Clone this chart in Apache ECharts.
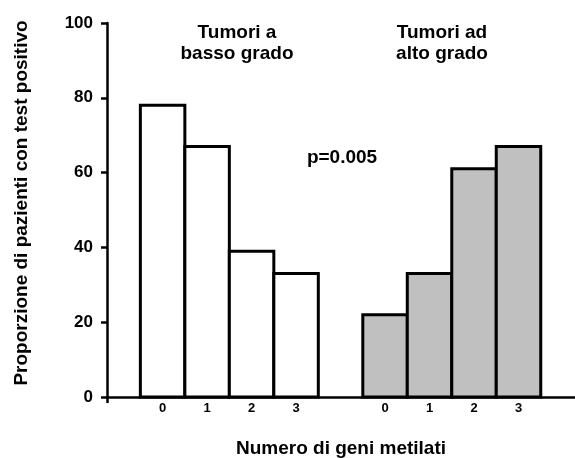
<!DOCTYPE html>
<html><head><meta charset="utf-8">
<script src="https://cdn.jsdelivr.net/npm/echarts@6/dist/echarts.min.js"></script>
<style>html,body{margin:0;padding:0;background:#fff}#c{width:575px;height:458px}</style>
</head><body><div id="c"></div>
<script>
// ---- data ----
const geneCounts = ['0', '1', '2', '3'];
const groupTitles = ['Tumori a\nbasso grado', 'Tumori ad\nalto grado'];
const lowGrade = [78, 67, 39, 33];
const highGrade = [22, 33, 61, 67];
const yTickValues = [0, 20, 40, 60, 80, 100];
const pValueText = 'p=0.005';
const yAxisTitle = 'Proporzione di pazienti con test positivo';
const xAxisTitle = 'Numero di geni metilati';

// ---- layout helpers ----
const FONT = '"Liberation Sans", Arial, Helvetica, sans-serif';
const groupOffset = [1, 6]; // slot of first bar in each group
const lowData = lowGrade.map((v, i) => [groupOffset[0] + i, v]);
const highData = highGrade.map((v, i) => [groupOffset[1] + i, v]);
const labelSlots = [];
const labelMap = {};
[0, 1].forEach(g => geneCounts.forEach((c, i) => {
  const s = groupOffset[g] + i; labelSlots.push(s); labelMap[s] = c;
}));

function renderBar(params, api) {
  const x = api.value(0), y = api.value(1);
  const p0 = api.coord([x - 0.5, y]);
  const p1 = api.coord([x + 0.5, 0]);
  return {
    type: 'rect',
    shape: { x: p0[0], y: p0[1], width: p1[0] - p0[0], height: p1[1] - p0[1] },
    style: { fill: api.visual('color'), stroke: '#000', lineWidth: 3 }
  };
}

const chart = echarts.init(document.getElementById('c'));
chart.setOption({
  animation: false,
  backgroundColor: '#fff',
  grid: { left: 107, right: 0, top: 23, bottom: 61, containLabel: false, outerBoundsMode: 'none' },
  xAxis: {
    type: 'value', min: -0.25, max: 10.27,
    name: xAxisTitle, nameLocation: 'middle', nameGap: 42,
    nameTextStyle: { fontFamily: FONT, fontSize: 19, fontWeight: 'bold', color: '#000' },
    splitLine: { show: false },
    axisLine: { show: true, onZero: false, lineStyle: { color: '#000', width: 2.5 } },
    axisTick: { show: true, length: 6, customValues: [-0.25], lineStyle: { color: '#000', width: 2.5 } },
    axisLabel: {
      customValues: labelSlots, margin: 5,
      formatter: v => labelMap[Math.round(v)] ?? '',
      fontFamily: FONT, fontSize: 13, fontWeight: 'bold', color: '#000'
    }
  },
  yAxis: {
    type: 'value', min: 0, max: 100, interval: 20,
    name: yAxisTitle, nameLocation: 'middle', nameGap: 76, nameRotate: 90,
    nameTextStyle: { fontFamily: FONT, fontSize: 19, fontWeight: 'bold', color: '#000', padding: [0, 0, 0, 14] },
    splitLine: { show: false },
    axisLine: { show: true, onZero: false, lineStyle: { color: '#000', width: 2.5 } },
    axisTick: { show: true, length: 6, lineStyle: { color: '#000', width: 2.5 } },
    axisLabel: { margin: 14, fontFamily: FONT, fontSize: 17, fontWeight: 'bold', color: '#000' }
  },
  graphic: [
    { type: 'text', x: 237, y: 22, style: { text: groupTitles[0], align: 'center', verticalAlign: 'top', font: 'bold 19px ' + FONT, lineHeight: 21, fill: '#000' } },
    { type: 'text', x: 442, y: 22, style: { text: groupTitles[1], align: 'center', verticalAlign: 'top', font: 'bold 19px ' + FONT, lineHeight: 21, fill: '#000' } },
    { type: 'text', x: 342, y: 158, style: { text: pValueText, align: 'center', verticalAlign: 'middle', font: 'bold 19px ' + FONT, fill: '#000' } }
  ],
  series: [
    { type: 'custom', name: 'basso', renderItem: renderBar, data: lowData, itemStyle: { color: '#ffffff' }, encode: { x: 0, y: 1 } },
    { type: 'custom', name: 'alto', renderItem: renderBar, data: highData, itemStyle: { color: '#c0c0c0' }, encode: { x: 0, y: 1 } }
  ]
});
</script></body></html>
